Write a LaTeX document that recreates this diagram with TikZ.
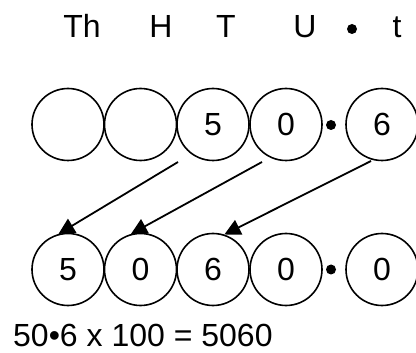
\documentclass[tikz,border=0pt]{standalone}
\usepackage{fontspec}
\setmainfont{Liberation Sans}
\usetikzlibrary{arrows.meta}
\begin{document}
\begin{tikzpicture}[x=1pt,y=-1pt,
  digit/.style={circle,draw,line width=1.6pt,minimum size=72pt,inner sep=0pt,font=\fontsize{32}{38}\selectfont},
  head/.style={font=\fontsize{32}{38}\selectfont,inner sep=0pt,anchor=base},
  pt/.style={circle,fill,inner sep=0pt,minimum size=10pt},
  mover/.style={line width=1.8pt,-{Triangle[length=16pt,width=16pt]}}]
\useasboundingbox (0,0) rectangle (416,353);
% headings
\node[head] (hTh) at (82,38) {Th};
\node[head] (hH) at (161,38) {H};
\node[head] (hT) at (226,38) {T};
\node[head] (hU) at (305,38) {U};
\node[pt] (hdot) at (352,29) {};
\node[head] (ht) at (397,38) {t};
% top row
\node[digit] (a1) at (68,124.5) {};
\node[digit] (a2) at (140.5,124.5) {};
\node[digit] (a3) at (213,124.5) {5};
\node[digit] (a4) at (286,124.5) {0};
\node[pt] (adot) at (331,125) {};
\node[digit] (a5) at (382,124.5) {6};
% bottom row
\node[digit] (b1) at (68,269.5) {5};
\node[digit] (b2) at (140.5,269.5) {0};
\node[digit] (b3) at (213,269.5) {6};
\node[digit] (b4) at (286,269.5) {0};
\node[pt] (bdot) at (331,269.5) {};
\node[digit] (b5) at (382,269.5) {0};
% arrow start points
\coordinate (s1) at (178,162);
\coordinate (s2) at (262,162);
\coordinate (s3) at (371,161);
\draw[mover] (s1) -- (b1.105);
\draw[mover] (s2) -- (b2.105);
\draw[mover] (s3) -- (b3.72);
% equation
\node[font=\fontsize{32}{36}\selectfont,inner sep=0pt,anchor=base west] (eq) at (13,347) {50•6 x 100 = 5060};
\end{tikzpicture}
\end{document}
